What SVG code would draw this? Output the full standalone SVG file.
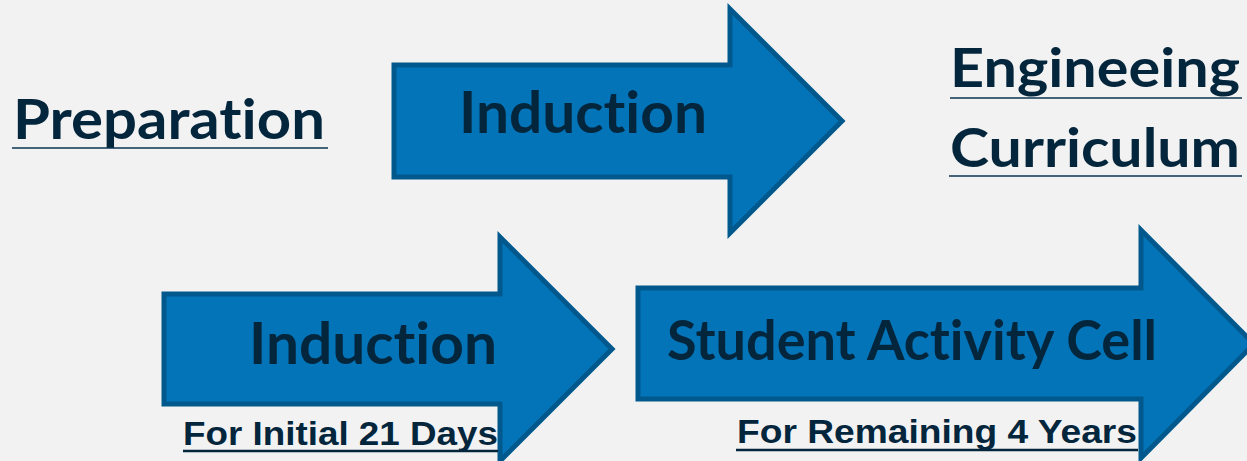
<svg xmlns="http://www.w3.org/2000/svg" width="1247" height="461" viewBox="0 0 1247 461">
<style>
.arrow{fill:#0474b9;stroke:#01588c;stroke-width:5;stroke-linejoin:miter}
.big{font-family:Lato,"Open Sans","Liberation Sans",sans-serif;font-weight:bold;fill:#04263d;font-variant-ligatures:none;font-feature-settings:"liga" 0}
.small{font-family:"Liberation Sans",Arial,sans-serif;font-weight:bold;fill:#04263d;font-size:34px}
.ul{stroke:#0b3550;stroke-width:1.5}
.ul2{stroke:#04263d;stroke-width:2.5}
</style>
<rect width="1247" height="461" fill="#f2f2f2"/>
<g id="connectors"/>
<g id="preparation">
<text class="big" x="13" y="139" font-size="56" textLength="312" lengthAdjust="spacingAndGlyphs">Preparation</text>
<line class="ul" x1="12" y1="148" x2="328" y2="148"/>
</g>
<g id="induction-top">
<path class="arrow" d="M394,65 H730 V9 L842,121 L730,233 V177 H394 Z"/>
<text class="big" x="459" y="133" font-size="58" textLength="248" lengthAdjust="spacingAndGlyphs">Induction</text>
</g>
<g id="engineering-curriculum">
<text class="big" x="950" y="87" font-size="53" textLength="290" lengthAdjust="spacingAndGlyphs">Engineeing</text>
<line class="ul" x1="950" y1="98" x2="1242" y2="98"/>
<text class="big" x="950" y="167" font-size="53" textLength="290" lengthAdjust="spacingAndGlyphs">Curriculum</text>
<line class="ul" x1="949" y1="176" x2="1242" y2="176"/>
</g>
<g id="induction-bottom">
<path class="arrow" d="M164,294 H500 V237 L612,349 L500,461 V404 H164 Z"/>
<text class="big" x="249" y="364" font-size="58" textLength="248" lengthAdjust="spacingAndGlyphs">Induction</text>
<text class="small" x="183" y="445" textLength="315" lengthAdjust="spacingAndGlyphs">For Initial 21 Days</text>
<line class="ul2" x1="183" y1="451" x2="498" y2="451"/>
</g>
<g id="student-activity-cell">
<path class="arrow" d="M638,288 H1141 V230 L1254,344 L1141,458 V399 H638 Z"/>
<text class="big" x="667" y="360" font-size="56" textLength="490" lengthAdjust="spacingAndGlyphs">Student Activity Cell</text>
<text class="small" x="737" y="443" textLength="400" lengthAdjust="spacingAndGlyphs">For Remaining 4 Years</text>
<line class="ul2" x1="736" y1="450" x2="1138" y2="450"/>
</g>
</svg>
